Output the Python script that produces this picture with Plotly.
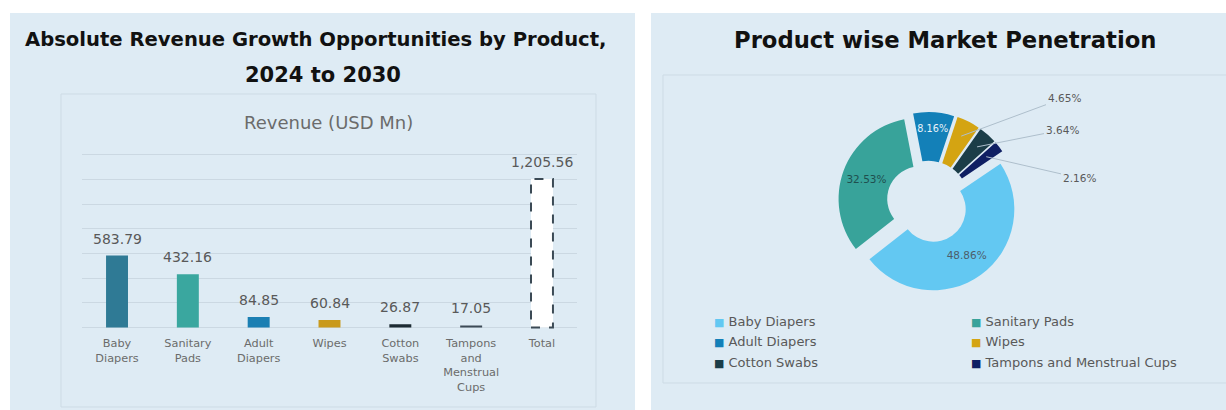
import math
import plotly.graph_objects as go

W, H = 1226, 410

# ---- data: absolute revenue growth 2024-2030 (USD Mn) ----
bar_tick_labels = ["Baby<br>Diapers", "Sanitary<br>Pads", "Adult<br>Diapers", "Wipes",
                   "Cotton<br>Swabs", "Tampons<br>and<br>Menstrual<br>Cups", "Total"]
revenue_growth = [583.79, 432.16, 84.85, 60.84, 26.87, 17.05, 1205.56]
bar_colors = ["#2f7a95", "#3aa79f", "#1b7fb3", "#c99a1c", "#1c2b33", "#3c4a56", "#ffffff"]

# ---- data: product-wise market penetration (%) ----
share_products = ["Baby Diapers", "Sanitary Pads", "Adult Diapers", "Wipes",
                  "Cotton Swabs", "Tampons and Menstrual Cups"]
share_pct = [48.86, 32.53, 8.16, 4.65, 3.64, 2.16]
share_colors = ["#63c8f2", "#38a39a", "#1380b8", "#d4a412", "#1b3d48", "#0f1f63"]
share_text_colors = ["#4d5e6b", "#1f4f4f", "#e8f2fa", "#595959", "#595959", "#595959"]

FONT = "DejaVu Sans"
PANEL = "#deebf4"
BOX_LINE = "#cddbe5"
TEXT = "#595959"


def px(x):
    return x / W


def py(y):
    return 1 - y / H


fig = go.Figure()

# ---- panels ----
shapes = [
    dict(type="rect", xref="paper", yref="paper", x0=px(10), x1=px(635), y0=py(410), y1=py(13),
         fillcolor=PANEL, line_width=0, layer="below"),
    dict(type="rect", xref="paper", yref="paper", x0=px(651), x1=px(1226), y0=py(410), y1=py(13),
         fillcolor=PANEL, line_width=0, layer="below"),
    dict(type="rect", xref="paper", yref="paper", x0=px(61), x1=px(596), y0=py(407), y1=py(94),
         fillcolor="rgba(0,0,0,0)", line=dict(color=BOX_LINE, width=1), layer="below"),
    dict(type="rect", xref="paper", yref="paper", x0=px(663), x1=px(1230), y0=py(383), y1=py(75),
         fillcolor="rgba(0,0,0,0)", line=dict(color=BOX_LINE, width=1), layer="below"),
]

# ---- bar chart ----
bargap = 0.69
fig.add_trace(go.Bar(
    x=bar_tick_labels, y=revenue_growth,
    marker=dict(color=bar_colors, line_width=0),
    hoverinfo="x+y", showlegend=False,
))

# dashed outline around the Total bar
half_w = (1 - bargap) / 2
total_idx = len(revenue_growth) - 1
shapes.append(dict(type="rect", xref="x", yref="y",
                   x0=total_idx - half_w, x1=total_idx + half_w,
                   y0=0, y1=revenue_growth[total_idx],
                   line=dict(color="#3b4a55", width=2, dash="dash"),
                   fillcolor="rgba(0,0,0,0)", layer="above"))

annotations = []
for lab, v in zip(bar_tick_labels, revenue_growth):
    annotations.append(dict(x=lab, y=v, xref="x", yref="y", text=f"{v:,.2f}",
                            showarrow=False, xanchor="center", yanchor="bottom", yshift=7,
                            font=dict(family=FONT, size=14, color=TEXT)))

# value axis: 0..1400 grid, padded so both end gridlines are drawn
y_min, y_max, y_pad = 0, 1400, 25
y_bottom_px, y_top_px = 327.5, 155
k = (y_bottom_px - y_top_px) / (y_max - y_min)
y_domain = [py(y_bottom_px + y_pad * k), py(y_top_px - y_pad * k)]

# ---- donut ----
pie_cx, pie_cy, pie_half = 928, 202, 90
pie_pull = 0.11
pie_hole = 0.4
pie_rotation = 56
pie_r = pie_half / (1 + pie_pull)

inside = ["inside", "inside", "inside", "none", "none", "none"]
fig.add_trace(go.Pie(
    labels=share_products, values=share_pct,
    marker=dict(colors=share_colors, line=dict(width=0)),
    hole=pie_hole, pull=pie_pull, sort=False, direction="clockwise",
    rotation=pie_rotation,
    texttemplate="%{value:.2f}%", textposition=inside,
    insidetextorientation="horizontal",
    textfont=dict(family=FONT, size=10.5, color=share_text_colors),
    domain=dict(x=[px(pie_cx - pie_half), px(pie_cx + pie_half)],
                y=[py(pie_cy + pie_half), py(pie_cy - pie_half)]),
    showlegend=False,
))

# outside labels with leader lines for the small slices
label_pos = {3: (1064, 98), 4: (1062, 130), 5: (1079, 178)}
total = sum(share_pct)
cum = 0.0
for i, v in enumerate(share_pct):
    mid = math.radians(pie_rotation + 360 * (cum + v / 2) / total)
    cum += v
    if i not in label_pos:
        continue
    rr = pie_r * 0.8 + pie_pull * pie_r
    sx = pie_cx + rr * math.sin(mid)
    sy = pie_cy - rr * math.cos(mid)
    lx, ly = label_pos[i]
    annotations.append(dict(x=px(sx), y=py(sy), xref="paper", yref="paper",
                            text=f"{v:.2f}%", showarrow=True, arrowhead=0,
                            arrowwidth=1, arrowcolor="#aebfcc", standoff=0,
                            ax=lx - sx, ay=ly - sy,
                            font=dict(family=FONT, size=10.5, color=TEXT)))

# legend
legend_cols = [712, 969]
legend_rows = [321, 341, 362]
for i, (name, c) in enumerate(zip(share_products, share_colors)):
    annotations.append(dict(
        x=px(legend_cols[i % 2]), y=py(legend_rows[i // 2]), xref="paper", yref="paper",
        text=f'<span style="color:{c};font-size:11px">■</span> {name}',
        showarrow=False, xanchor="left", yanchor="middle",
        font=dict(family=FONT, size=13, color=TEXT)))

# titles
title_font = dict(family=FONT, color="#111111")
annotations += [
    dict(x=px(316), y=py(40), xref="paper", yref="paper", showarrow=False,
         xanchor="center", yanchor="middle",
         text="<b>Absolute Revenue Growth Opportunities by Product,</b>",
         font=dict(size=19.6, **title_font)),
    dict(x=px(323), y=py(75), xref="paper", yref="paper", showarrow=False,
         xanchor="center", yanchor="middle",
         text="<b>2024 to 2030</b>",
         font=dict(size=21, **title_font)),
    dict(x=px(328), y=py(122), xref="paper", yref="paper", showarrow=False,
         xanchor="center", yanchor="middle",
         text="Revenue (USD Mn)",
         font=dict(family=FONT, size=18, color="#6b6b6b")),
    dict(x=px(945), y=py(40), xref="paper", yref="paper", showarrow=False,
         xanchor="center", yanchor="middle",
         text="<b>Product wise Market Penetration</b>",
         font=dict(size=22.7, **title_font)),
]

fig.update_layout(
    width=W, height=H, margin=dict(l=0, r=0, t=0, b=0),
    paper_bgcolor="#ffffff", plot_bgcolor="rgba(0,0,0,0)",
    bargap=bargap, shapes=shapes, annotations=annotations,
    xaxis=dict(domain=[px(81.6), px(577.4)], showgrid=False, zeroline=False,
               showline=False, ticks="", ticklabelstandoff=4,
               tickfont=dict(family=FONT, size=11.3, color="#6b6b6b")),
    yaxis=dict(domain=y_domain, range=[y_min - y_pad, y_max + y_pad], dtick=200, tick0=0,
               showgrid=True, gridcolor="#cbd8e2", gridwidth=1,
               zeroline=False, showticklabels=False, ticks=""),
    font=dict(family=FONT, color=TEXT),
)

fig.write_html("out.html")
